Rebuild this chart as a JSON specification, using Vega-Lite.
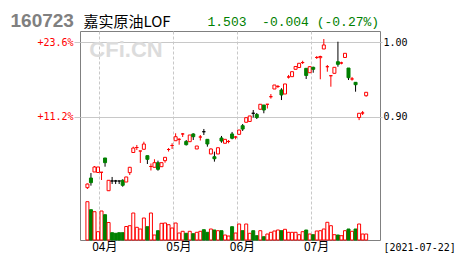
{
"$schema": "https://vega.github.io/schema/vega-lite/v6.json",
"width": 300, "height": 209,
"autosize": {"type": "none"},
"padding": {"left": 80, "top": 31, "right": 80, "bottom": 30},
"background": "white",
"config": {"view": {"stroke": "#808080", "strokeWidth": 1}},
"data": {"values": [
{"i":0,"t":"up","o":0.8046,"c":0.8095,"h":0.8102,"l":0.8028,"v":38300},
{"i":1,"t":"down","o":0.8176,"c":0.8113,"h":0.8243,"l":0.8073,"v":30300},
{"i":2,"t":"up","o":0.8257,"c":0.8324,"h":0.8337,"l":0.8257,"v":28300},
{"i":3,"t":"up","o":0.8250,"c":0.8324,"h":0.8324,"l":0.8250,"v":8300},
{"i":4,"t":"up","o":0.8253,"c":0.8253,"h":0.8253,"l":0.8149,"v":29000},
{"i":5,"t":"down","o":0.8445,"c":0.8382,"h":0.8445,"l":0.8328,"v":25300},
{"i":6,"t":"up","o":0.8005,"c":0.8145,"h":0.8145,"l":0.8005,"v":17500},
{"i":7,"t":"flat","o":0.8136,"c":0.8136,"h":0.8190,"l":0.8095,"v":7300},
{"i":8,"t":"flat","o":0.8136,"c":0.8136,"h":0.8150,"l":0.8095,"v":6700},
{"i":9,"t":"flat","o":0.8136,"c":0.8136,"h":0.8136,"l":0.8095,"v":7300},
{"i":10,"t":"down","o":0.8145,"c":0.8078,"h":0.8159,"l":0.8059,"v":7300},
{"i":11,"t":"up","o":0.8122,"c":0.8190,"h":0.8190,"l":0.8122,"v":13500},
{"i":12,"t":"up","o":0.8248,"c":0.8320,"h":0.8325,"l":0.8216,"v":14300},
{"i":13,"t":"up","o":0.8519,"c":0.8579,"h":0.8597,"l":0.8519,"v":27000},
{"i":14,"t":"up","o":0.8586,"c":0.8586,"h":0.8620,"l":0.8552,"v":12700},
{"i":15,"t":"up","o":0.8539,"c":0.8539,"h":0.8539,"l":0.8378,"v":11000},
{"i":16,"t":"up","o":0.8562,"c":0.8633,"h":0.8664,"l":0.8562,"v":22000},
{"i":17,"t":"down","o":0.8476,"c":0.8427,"h":0.8476,"l":0.8364,"v":13300},
{"i":18,"t":"up","o":0.8331,"c":0.8331,"h":0.8371,"l":0.8277,"v":27000},
{"i":19,"t":"up","o":0.8320,"c":0.8382,"h":0.8428,"l":0.8320,"v":5000},
{"i":20,"t":"down","o":0.8382,"c":0.8293,"h":0.8409,"l":0.8274,"v":9300},
{"i":21,"t":"up","o":0.8328,"c":0.8382,"h":0.8382,"l":0.8328,"v":16700},
{"i":22,"t":"up","o":0.8409,"c":0.8454,"h":0.8454,"l":0.8382,"v":17000},
{"i":23,"t":"up","o":0.8559,"c":0.8559,"h":0.8579,"l":0.8532,"v":15300},
{"i":24,"t":"up","o":0.8613,"c":0.8613,"h":0.8643,"l":0.8566,"v":12000},
{"i":25,"t":"up","o":0.8677,"c":0.8731,"h":0.8777,"l":0.8677,"v":17000},
{"i":26,"t":"up","o":0.8696,"c":0.8696,"h":0.8710,"l":0.8624,"v":7000},
{"i":27,"t":"up","o":0.8768,"c":0.8768,"h":0.8781,"l":0.8727,"v":8700},
{"i":28,"t":"down","o":0.8667,"c":0.8624,"h":0.8687,"l":0.8613,"v":6700},
{"i":29,"t":"up","o":0.8664,"c":0.8754,"h":0.8754,"l":0.8664,"v":8700},
{"i":30,"t":"down","o":0.8768,"c":0.8731,"h":0.8777,"l":0.8687,"v":6300},
{"i":31,"t":"up","o":0.8566,"c":0.8606,"h":0.8606,"l":0.8566,"v":7700},
{"i":32,"t":"up","o":0.8727,"c":0.8727,"h":0.8754,"l":0.8680,"v":8700},
{"i":33,"t":"flat","o":0.8798,"c":0.8798,"h":0.8835,"l":0.8754,"v":10300},
{"i":34,"t":"down","o":0.8696,"c":0.8633,"h":0.8700,"l":0.8597,"v":7700},
{"i":35,"t":"up","o":0.8499,"c":0.8566,"h":0.8575,"l":0.8499,"v":11000},
{"i":36,"t":"down","o":0.8462,"c":0.8435,"h":0.8530,"l":0.8396,"v":10000},
{"i":37,"t":"up","o":0.8499,"c":0.8583,"h":0.8583,"l":0.8499,"v":9300},
{"i":38,"t":"down","o":0.8714,"c":0.8673,"h":0.8741,"l":0.8650,"v":9300},
{"i":39,"t":"up","o":0.8643,"c":0.8696,"h":0.8696,"l":0.8643,"v":5000},
{"i":40,"t":"up","o":0.8667,"c":0.8667,"h":0.8687,"l":0.8643,"v":4000},
{"i":41,"t":"down","o":0.8768,"c":0.8710,"h":0.8795,"l":0.8696,"v":13300},
{"i":42,"t":"up","o":0.8727,"c":0.8727,"h":0.8741,"l":0.8696,"v":7000},
{"i":43,"t":"up","o":0.8763,"c":0.8821,"h":0.8821,"l":0.8763,"v":16000},
{"i":44,"t":"down","o":0.8879,"c":0.8834,"h":0.8902,"l":0.8808,"v":9300},
{"i":45,"t":"up","o":0.8925,"c":0.8987,"h":0.8987,"l":0.8925,"v":16000},
{"i":46,"t":"up","o":0.8936,"c":0.9010,"h":0.9010,"l":0.8936,"v":6700},
{"i":47,"t":"flat","o":0.9046,"c":0.9046,"h":0.9090,"l":0.8989,"v":9300},
{"i":48,"t":"down","o":0.9030,"c":0.8989,"h":0.9050,"l":0.8969,"v":4300},
{"i":49,"t":"up","o":0.9100,"c":0.9167,"h":0.9167,"l":0.9100,"v":9300},
{"i":50,"t":"down","o":0.9157,"c":0.9090,"h":0.9157,"l":0.9046,"v":3300},
{"i":51,"t":"up","o":0.9167,"c":0.9167,"h":0.9167,"l":0.9110,"v":6000},
{"i":52,"t":"up","o":0.9269,"c":0.9269,"h":0.9305,"l":0.9243,"v":7700},
{"i":53,"t":"up","o":0.9372,"c":0.9426,"h":0.9426,"l":0.9372,"v":9000},
{"i":54,"t":"up","o":0.9406,"c":0.9406,"h":0.9426,"l":0.9386,"v":10000},
{"i":55,"t":"down","o":0.9359,"c":0.9292,"h":0.9382,"l":0.9224,"v":9300},
{"i":56,"t":"up","o":0.9305,"c":0.9440,"h":0.9440,"l":0.9305,"v":10700},
{"i":57,"t":"up","o":0.9534,"c":0.9534,"h":0.9561,"l":0.9513,"v":7700},
{"i":58,"t":"up","o":0.9538,"c":0.9605,"h":0.9605,"l":0.9538,"v":7700},
{"i":59,"t":"up","o":0.9637,"c":0.9675,"h":0.9675,"l":0.9637,"v":7700},
{"i":60,"t":"up","o":0.9661,"c":0.9718,"h":0.9718,"l":0.9661,"v":5300},
{"i":61,"t":"up","o":0.9728,"c":0.9728,"h":0.9752,"l":0.9708,"v":8300},
{"i":62,"t":"down","o":0.9650,"c":0.9554,"h":0.9650,"l":0.9507,"v":10000},
{"i":63,"t":"up","o":0.9591,"c":0.9672,"h":0.9681,"l":0.9591,"v":6000},
{"i":64,"t":"down","o":0.9664,"c":0.9637,"h":0.9672,"l":0.9591,"v":5300},
{"i":65,"t":"up","o":0.9796,"c":0.9796,"h":0.9816,"l":0.9776,"v":9000},
{"i":66,"t":"up","o":0.9793,"c":0.9809,"h":0.9820,"l":0.9503,"v":9300},
{"i":67,"t":"up","o":0.9910,"c":0.9964,"h":1.0044,"l":0.9910,"v":11000},
{"i":68,"t":"up","o":0.9672,"c":0.9672,"h":0.9695,"l":0.9605,"v":17700},
{"i":69,"t":"up","o":0.9551,"c":0.9551,"h":0.9551,"l":0.9403,"v":14300},
{"i":70,"t":"up","o":0.9583,"c":0.9664,"h":0.9664,"l":0.9583,"v":5300},
{"i":71,"t":"down","o":0.9739,"c":0.9704,"h":1.0008,"l":0.9672,"v":5000},
{"i":72,"t":"up","o":0.9722,"c":0.9722,"h":0.9739,"l":0.9704,"v":4300},
{"i":73,"t":"up","o":0.9796,"c":0.9852,"h":0.9852,"l":0.9796,"v":9300},
{"i":74,"t":"down","o":0.9654,"c":0.9524,"h":0.9654,"l":0.9493,"v":11000},
{"i":75,"t":"up","o":0.9507,"c":0.9507,"h":0.9534,"l":0.9484,"v":8700},
{"i":76,"t":"down","o":0.9462,"c":0.9430,"h":0.9466,"l":0.9336,"v":11000},
{"i":77,"t":"up","o":0.8989,"c":0.9046,"h":0.9046,"l":0.8954,"v":16000},
{"i":78,"t":"up","o":0.9050,"c":0.9050,"h":0.9077,"l":0.9023,"v":6000},
{"i":79,"t":"up","o":0.9282,"c":0.9328,"h":0.9328,"l":0.9269,"v":6000}
]},
"resolve": {"scale": {"y": "independent", "fill": "independent", "stroke": "independent", "color": "independent"}, "axis": {"x": "independent", "y": "independent"}},
"layer": [
{
"mark": {"type": "rule", "strokeWidth": 1},
"encoding": {
"x": {"field": "i", "type": "quantitative", "scale": {"domain": [-0.685, 81.507], "nice": false, "zero": false},
 "axis": {"orient": "bottom", "values": [3.38, 24.38, 42.38, 63.38], "labelExpr": "datum.value < 10 ? '04月' : datum.value < 30 ? '05月' : datum.value < 50 ? '06月' : '07月'", "grid": true, "gridColor": "#c8c8c8", "gridDash": [3, 2], "ticks": false, "domain": false, "labelOffset": 5, "labelPadding": 1, "labelFont": "Noto Sans CJK SC", "labelFontSize": 12, "labelColor": "#000000", "labelOverlap": false, "labelFlush": false,
 "title": "[2021-07-22]", "titleX": 303, "titleY": 10, "titleAlign": "left", "titleBaseline": "alphabetic", "titleFont": "DejaVu Sans Mono", "titleFontSize": 10, "titleFontWeight": "normal", "titleColor": "#000000"}},
"y": {"field": "h", "type": "quantitative", "scale": {"domain": [0.73427, 1.01519], "nice": false, "zero": false},
 "axis": {"orient": "left", "values": [0.9, 1.0], "labelExpr": "datum.value > 0.95 ? '+23.6%' : '+11.2%'", "grid": false, "ticks": true, "tickSize": 6, "tickColor": "#c8c8c8", "domain": false, "labelColor": "#ff0000", "labelFont": "DejaVu Sans Mono", "labelFontSize": 10, "labelPadding": 1,
 "title": "CFi.CN", "titleX": 45.5, "titleY": 18, "titleAngle": 0, "titleAlign": "center", "titleBaseline": "middle", "titleFont": "Liberation Sans", "titleFontSize": 22, "titleFontWeight": "bold", "titleColor": "#dcdcdc"}},
"y2": {"field": "l"},
"color": {"field": "t", "type": "nominal", "scale": {"domain": ["up", "down", "flat"], "range": ["#ff0000", "#000000", "#000000"]}, "legend": null}
}
},
{
"mark": {"type": "bar", "width": 3, "strokeWidth": 1},
"encoding": {
"x": {"field": "i", "type": "quantitative", "scale": {"domain": [-0.685, 81.507], "nice": false, "zero": false},
 "axis": {"orient": "top", "labels": false, "ticks": false, "domain": false, "grid": false,
 "title": "嘉实原油LOF", "titleX": 3, "titleY": -5, "titleAlign": "left", "titleBaseline": "alphabetic", "titleFont": "Noto Sans CJK SC", "titleFontSize": 15, "titleFontWeight": "normal", "titleColor": "#000000"}},
"y": {"field": "o", "type": "quantitative", "scale": {"domain": [0.73427, 1.01519], "nice": false, "zero": false},
 "axis": {"orient": "right", "values": [0.9, 1.0], "format": ".2f", "grid": true, "gridColor": "#c8c8c8", "ticks": true, "tickSize": 2, "tickColor": "#c8c8c8", "domain": false, "labelColor": "#000000", "labelFont": "DejaVu Sans Mono", "labelFontSize": 10, "labelPadding": 1,
 "title": "1.503\u00a0\u00a0-0.004\u00a0(-0.27%)", "titleX": -173, "titleY": -6, "titleAngle": 0, "titleAlign": "left", "titleBaseline": "alphabetic", "titleFont": "Liberation Mono", "titleFontSize": 13, "titleFontWeight": "normal", "titleColor": "#008000"}},
"y2": {"field": "c"},
"fill": {"field": "t", "type": "nominal", "scale": {"domain": ["up", "down", "flat"], "range": ["#ffffff", "#008000", "#000000"]}, "legend": null},
"stroke": {"field": "t", "type": "nominal", "scale": {"domain": ["up", "down", "flat"], "range": ["#ff0000", "#008000", "#000000"]}, "legend": null}
}
},
{
"mark": {"type": "bar", "width": 3, "strokeWidth": 1},
"encoding": {
"x": {"field": "i", "type": "quantitative", "scale": {"domain": [-0.685, 81.507], "nice": false, "zero": false}, "axis": null},
"y": {"field": "v", "type": "quantitative", "scale": {"domain": [0, 209000], "nice": false},
 "axis": {"orient": "left", "labels": false, "ticks": false, "domain": false, "grid": false,
 "title": "160723", "titleX": -70, "titleY": -5, "titleAngle": 0, "titleAlign": "left", "titleBaseline": "alphabetic", "titleFont": "Liberation Sans", "titleFontSize": 19, "titleFontWeight": "bold", "titleColor": "#808080"}},
"fill": {"field": "t", "type": "nominal", "scale": {"domain": ["up", "down", "flat"], "range": ["#ffffff", "#008000", "#008000"]}, "legend": null},
"stroke": {"field": "t", "type": "nominal", "scale": {"domain": ["up", "down", "flat"], "range": ["#ff0000", "#008000", "#008000"]}, "legend": null}
}
}
]
}
